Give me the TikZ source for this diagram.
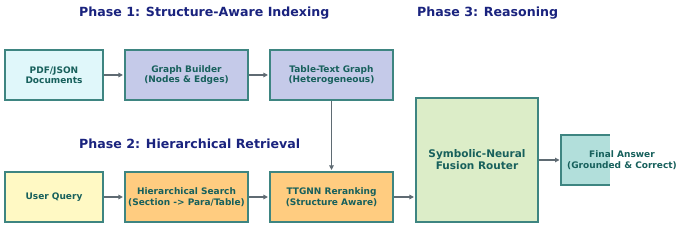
\documentclass[tikz,border=0pt]{standalone}
\usepackage{fontspec}
\setmainfont{DejaVu Sans}
\usetikzlibrary{arrows.meta}
\definecolor{bordc}{HTML}{3E8581}
\definecolor{txtc}{HTML}{17605C}
\definecolor{titc}{HTML}{1A237E}
\definecolor{arrc}{HTML}{5F6B73}
\definecolor{cyanf}{HTML}{E0F7FA}
\definecolor{lavf}{HTML}{C5CAE9}
\definecolor{yelf}{HTML}{FFF9C4}
\definecolor{orf}{HTML}{FFCC80}
\definecolor{grf}{HTML}{DCEDC8}
\definecolor{tealf}{HTML}{B2DFDB}
\tikzset{
  box/.style={draw=bordc, line width=1.1pt, text=txtc, font=\fontsize{9}{10.5}\selectfont\bfseries, align=center, inner sep=0pt},
  phasetitle/.style={text=titc, font=\fontsize{12.6}{14}\selectfont\bfseries, anchor=west, inner sep=0pt},
  arr/.style={draw=arrc, line width=1.1pt, shorten >=1.5pt, -{Triangle[length=4.5pt,width=4.5pt]}}
}
\begin{document}
\begin{tikzpicture}[x=1pt,y=-1pt]
\useasboundingbox (0,0) rectangle (680,227);
\node[phasetitle] (t1) at (79,13) {Phase 1: Structure-Aware Indexing};
\node[phasetitle] (t3) at (417,13) {Phase 3: Reasoning};
\node[phasetitle] (t2) at (79,144) {Phase 2: Hierarchical Retrieval};

\node[box, fill=cyanf, minimum width=98pt, minimum height=50pt] (pdf) at (54,75) {PDF/JSON\\Documents};
\node[box, fill=lavf, minimum width=123pt, minimum height=50pt] (gb) at (186.5,75) {Graph Builder\\(Nodes \& Edges)};
\node[box, fill=lavf, minimum width=123pt, minimum height=50pt] (ttg) at (331.5,75) {Table-Text Graph\\(Heterogeneous)};
\node[box, fill=yelf, minimum width=98pt, minimum height=50pt] (uq) at (54,197) {User Query};
\node[box, fill=orf, minimum width=123pt, minimum height=50pt] (hs) at (186.5,197) {Hierarchical Search\\(Section -> Para/Table)};
\node[box, fill=orf, minimum width=123pt, minimum height=50pt] (tt) at (331.5,197) {TTGNN Reranking\\(Structure Aware)};
\node[box, fill=grf, minimum width=122pt, minimum height=124pt, font=\fontsize{10.5}{12}\selectfont\bfseries] (fr) at (477,160) {Symbolic-Neural\\Fusion Router};

% final answer box, clipped on the right
\fill[tealf] (561,135) rectangle (609.5,185);
\draw[bordc, line width=1.1pt] (609.5,135) -- (561,135) -- (561,185) -- (609.5,185);
\coordinate (fa) at (561,160);
\node[text=txtc, font=\fontsize{9}{10.5}\selectfont\bfseries, align=center, inner sep=0pt] (fat) at (622,160) {Final Answer\\(Grounded \& Correct)};

\draw[arr] (pdf) -- (gb);
\draw[arr] (gb) -- (ttg);
\draw[arr] (ttg) -- (tt);
\draw[arr] (uq) -- (hs);
\draw[arr] (hs) -- (tt);
\draw[arr] (tt.east) -- (tt.east -| fr.west);
\draw[arr] (fr.east |- fa) -- (fa);
\end{tikzpicture}
\end{document}
